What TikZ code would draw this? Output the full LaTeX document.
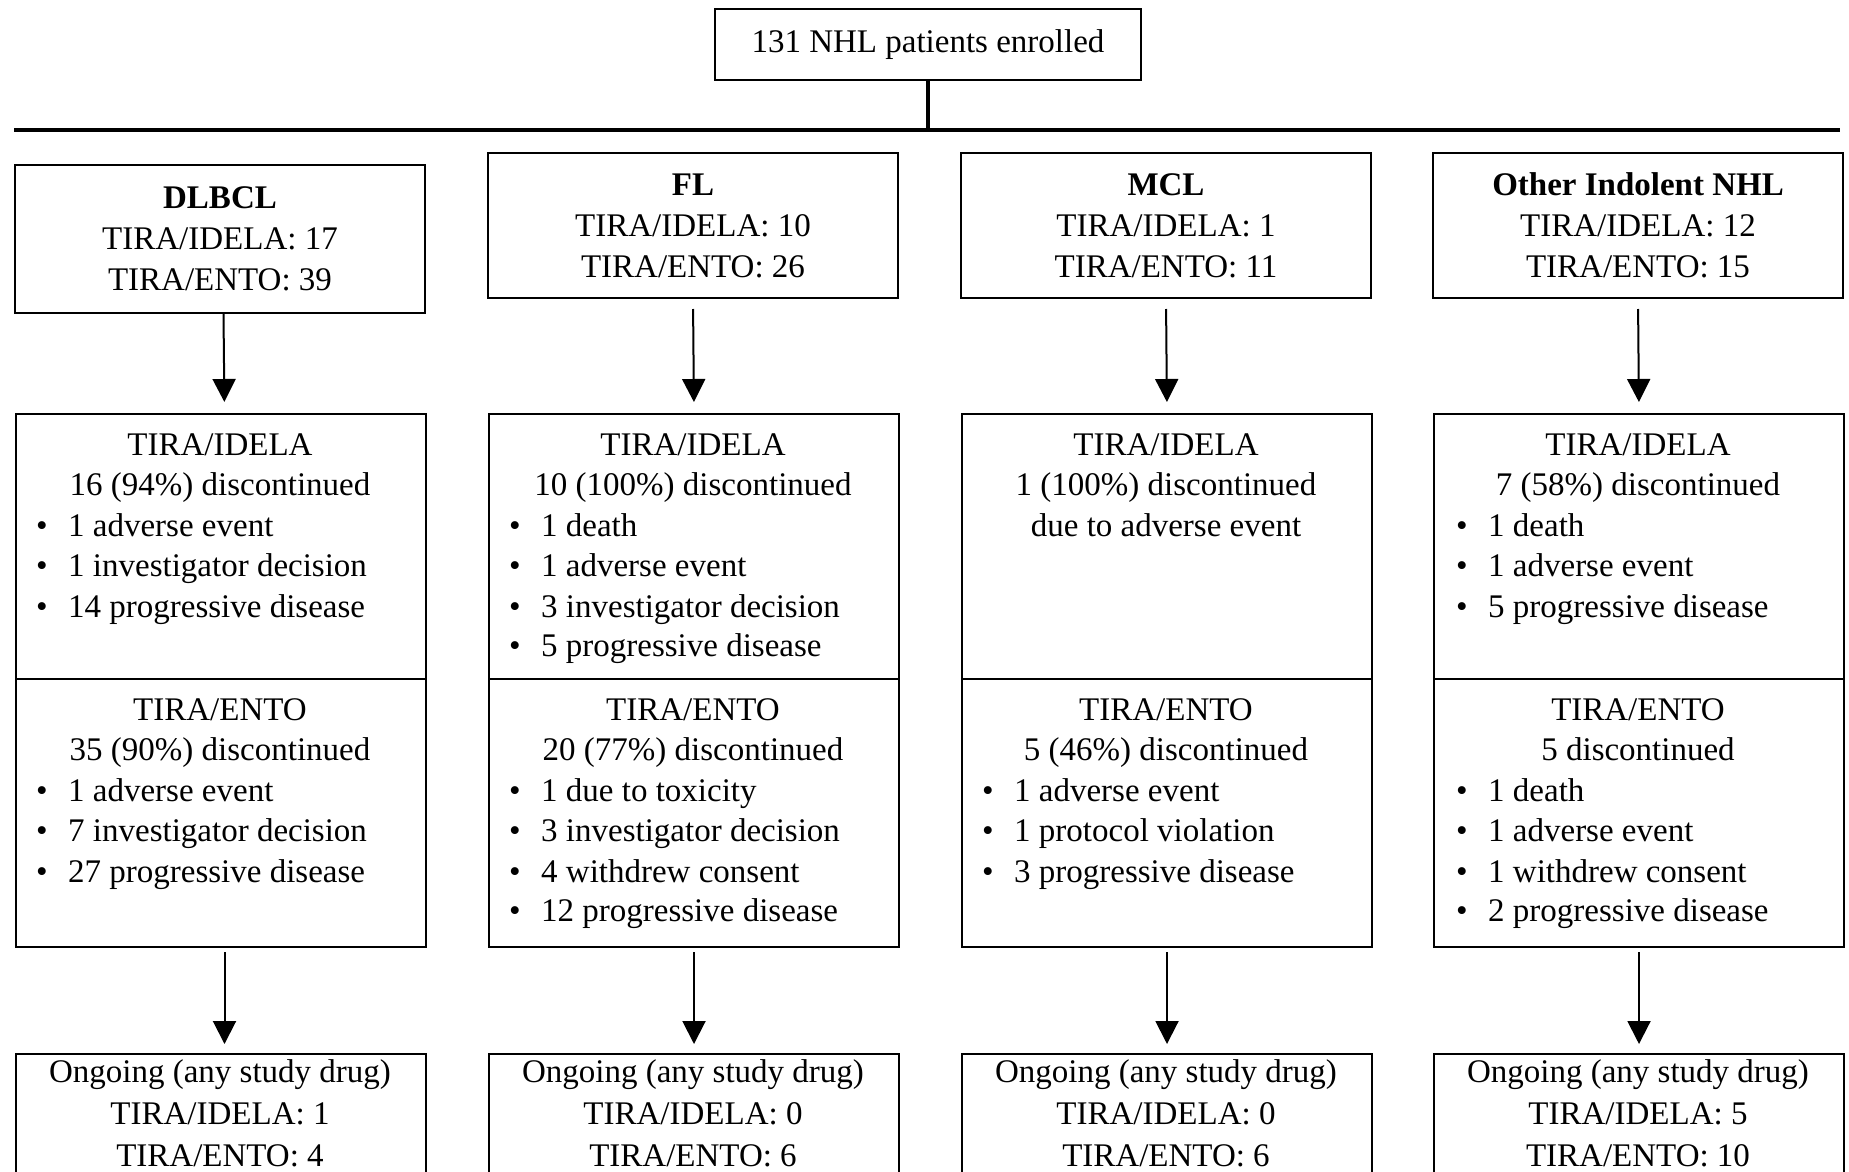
\documentclass[tikz,border=0pt]{standalone}
\usepackage{fontspec}
\setmainfont{Liberation Serif}
\usetikzlibrary{arrows.meta}
\newcounter{tl}
\newcommand\Ct[3]{\stepcounter{tl}\node[txt,anchor=base] (tl\arabic{tl}) at (#1,#2) {#3};}
\newcommand\Bt[3]{\stepcounter{tl}\node[txt,anchor=base west] (tl\arabic{tl}) at ({#1+21},#2) {\makebox[32pt][l]{\textbullet}#3};}
\tikzset{
  box/.style={draw, line width=2pt, inner sep=0pt, minimum width=410pt},
  txt/.style={inner sep=0pt, font=\fontsize{33}{40}\selectfont},
  grp/.style={box, align=center, font=\fontsize{33}{41}\selectfont},
  arr/.style={line width=2pt, -{Triangle[width=23pt,length=23pt]}}
}
\begin{document}
\begin{tikzpicture}[x=1pt,y=-1pt]
\useasboundingbox (0,0) rectangle (1849,1172);
\clip (0,0) rectangle (1849,1172);
\fill[white] (0,0) rectangle (1849,1172);

% top
\node[draw, line width=2pt, minimum width=426pt, minimum height=71pt, inner sep=0pt,
      font=\fontsize{33}{40}\selectfont] (top) at (928,44.5) {131 NHL patients enrolled};
\coordinate (hl) at (14,130);
\coordinate (hr) at (1840,130);
\draw[line width=4.5pt] (hl) -- (hr);
\draw[line width=3.5pt] (top.south) -- (top.south |- hl);

% group boxes
\node[grp, minimum height=148pt] (g1) at (220,239) {\textbf{DLBCL}\\TIRA/IDELA: 17\\TIRA/ENTO: 39};
\node[grp, minimum height=145pt] (g2) at (693,225.5) {\textbf{FL}\\TIRA/IDELA: 10\\TIRA/ENTO: 26};
\node[grp, minimum height=145pt] (g3) at (1166,225.5) {\textbf{MCL}\\TIRA/IDELA: 1\\TIRA/ENTO: 11};
\node[grp, minimum height=145pt] (g4) at (1638,225.5) {\textbf{Other Indolent NHL}\\TIRA/IDELA: 12\\TIRA/ENTO: 15};

% middle sections
\foreach \L/\n in {15/1,488/2,961/3,1433/4}{
  \node[box, anchor=north west, minimum height=265pt] (s\n a) at (\L,413) {};
  \node[box, anchor=north west, minimum height=268pt] (s\n b) at (\L,678) {};
  \node[box, anchor=north west, minimum height=170pt] (b\n) at (\L,1053) {};
}

% arrows
\draw[arr, shorten >=11pt] ([xshift=3.5pt]g1.south) -- ([xshift=3.5pt]s1a.north);
\draw[arr, shorten <=10pt, shorten >=11pt] (g2.south) -- (s2a.north);
\draw[arr, shorten <=10pt, shorten >=11pt] (g3.south) -- (s3a.north);
\draw[arr, shorten <=10pt, shorten >=11pt] (g4.south) -- (s4a.north);
\draw[arr, shorten <=4pt, shorten >=9pt] ([xshift=3.5pt]s1b.south) -- ([xshift=3.5pt]b1.north);
\draw[arr, shorten <=4pt, shorten >=9pt] (s2b.south) -- (b2.north);
\draw[arr, shorten <=4pt, shorten >=9pt] (s3b.south) -- (b3.north);
\draw[arr, shorten <=4pt, shorten >=9pt] (s4b.south) -- (b4.north);

% DLBCL
\Ct{220}{455}{TIRA/IDELA}
\Ct{220}{495.5}{16 (94\%) discontinued}
\Bt{15}{536}{1 adverse event}
\Bt{15}{576.5}{1 investigator decision}
\Bt{15}{617}{14 progressive disease}
\Ct{220}{720}{TIRA/ENTO}
\Ct{220}{760.5}{35 (90\%) discontinued}
\Bt{15}{801}{1 adverse event}
\Bt{15}{841.5}{7 investigator decision}
\Bt{15}{882}{27 progressive disease}
\Ct{220}{1082}{Ongoing (any study drug)}
\Ct{220}{1124}{TIRA/IDELA: 1}
\Ct{220}{1166}{TIRA/ENTO: 4}

% FL
\Ct{693}{455}{TIRA/IDELA}
\Ct{693}{495.5}{10 (100\%) discontinued}
\Bt{488}{536}{1 death}
\Bt{488}{576.5}{1 adverse event}
\Bt{488}{617}{3 investigator decision}
\Bt{488}{656}{5 progressive disease}
\Ct{693}{720}{TIRA/ENTO}
\Ct{693}{760.5}{20 (77\%) discontinued}
\Bt{488}{801}{1 due to toxicity}
\Bt{488}{841.5}{3 investigator decision}
\Bt{488}{882}{4 withdrew consent}
\Bt{488}{921}{12 progressive disease}
\Ct{693}{1082}{Ongoing (any study drug)}
\Ct{693}{1124}{TIRA/IDELA: 0}
\Ct{693}{1166}{TIRA/ENTO: 6}

% MCL
\Ct{1166}{455}{TIRA/IDELA}
\Ct{1166}{495.5}{1 (100\%) discontinued}
\Ct{1166}{536}{due to adverse event}
\Ct{1166}{720}{TIRA/ENTO}
\Ct{1166}{760.5}{5 (46\%) discontinued}
\Bt{961}{801}{1 adverse event}
\Bt{961}{841.5}{1 protocol violation}
\Bt{961}{882}{3 progressive disease}
\Ct{1166}{1082}{Ongoing (any study drug)}
\Ct{1166}{1124}{TIRA/IDELA: 0}
\Ct{1166}{1166}{TIRA/ENTO: 6}

% Other
\Ct{1638}{455}{TIRA/IDELA}
\Ct{1638}{495.5}{7 (58\%) discontinued}
\Bt{1435}{536}{1 death}
\Bt{1435}{576.5}{1 adverse event}
\Bt{1435}{617}{5 progressive disease}
\Ct{1638}{720}{TIRA/ENTO}
\Ct{1638}{760.5}{5 discontinued}
\Bt{1435}{801}{1 death}
\Bt{1435}{841.5}{1 adverse event}
\Bt{1435}{882}{1 withdrew consent}
\Bt{1435}{921}{2 progressive disease}
\Ct{1638}{1082}{Ongoing (any study drug)}
\Ct{1638}{1124}{TIRA/IDELA: 5}
\Ct{1638}{1166}{TIRA/ENTO: 10}
\end{tikzpicture}
\end{document}
